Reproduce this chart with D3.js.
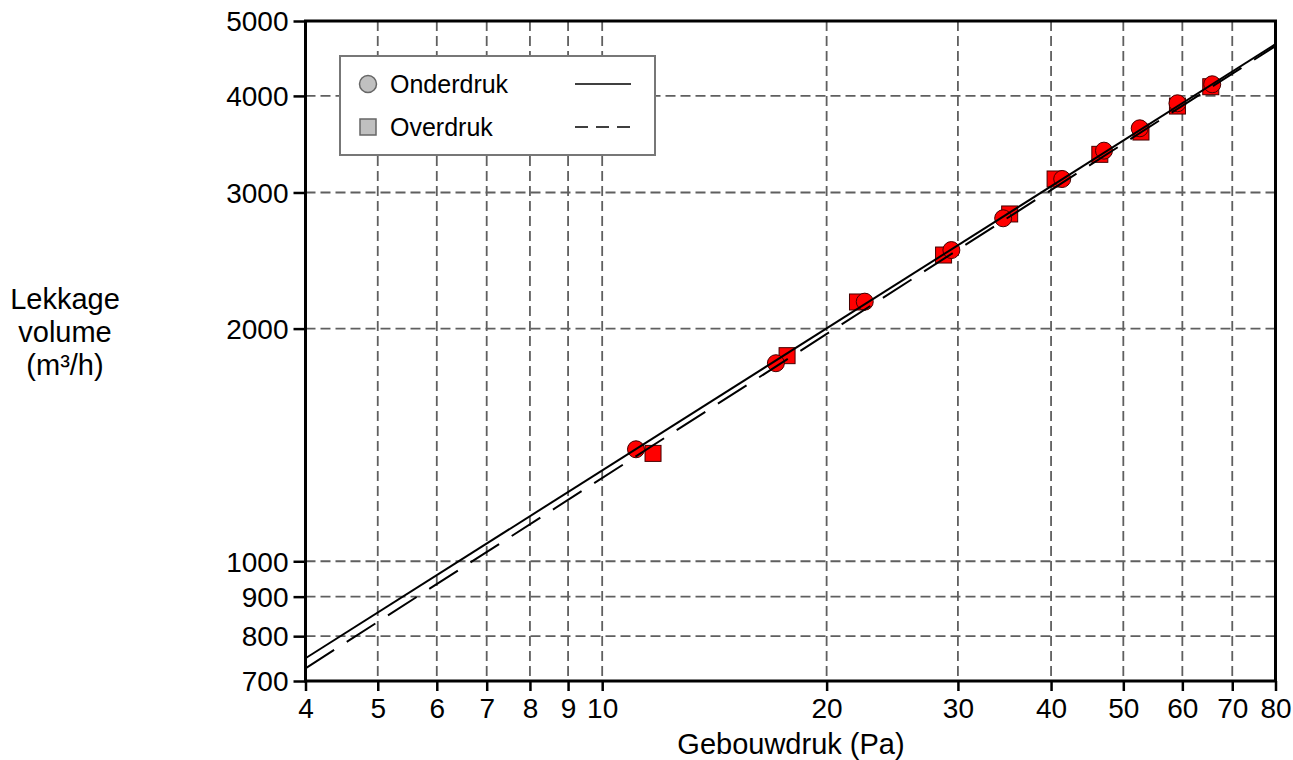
<!DOCTYPE html>
<html>
<head>
<meta charset="utf-8">
<script src="https://cdn.jsdelivr.net/npm/d3@7"></script>
<style>
  body { margin: 0; background: #fff; }
  text { font-family: "Liberation Sans", Arial, sans-serif; fill: #000; }
</style>
</head>
<body>
<svg id="chart" width="1293" height="760"></svg>
<script>
// measured points, pressure in Pa, volume in m3/h
const onderP = [11.1, 17.1, 22.5, 29.4, 34.5, 41.4, 47.1, 52.6, 59.1, 65.8];
const onderQ = [1396, 1804, 2167, 2527, 2778, 3123, 3398, 3632, 3913, 4141];
const overP = [11.7, 17.7, 22.0, 28.7, 35.2, 40.5, 46.5, 52.8, 59.1, 65.5];
const overQ = [1379, 1845, 2165, 2490, 2814, 3123, 3361, 3592, 3881, 4111];

// fitted lines Q = C * P^n
const fitNames = ['Onderdruk', 'Overdruk'];
const fitC = [321.3, 308.3];
const fitN = [0.6106, 0.6188];

const xTicks = [4, 5, 6, 7, 8, 9, 10, 20, 30, 40, 50, 60, 70, 80];
const yTicks = [700, 800, 900, 1000, 2000, 3000, 4000, 5000];

const svg = d3.select('#chart');
const plot = { left: 305.5, right: 1275.5, top: 21, bottom: 681 };

const x = d3.scaleLog()
  .domain([4, 80])
  .range([plot.left, plot.right]);

const y = d3.scaleLog()
  .domain([700, 5000])
  .range([plot.bottom, plot.top]);

svg.append('defs')
  .append('clipPath')
    .attr('id', 'plotClip')
  .append('rect')
    .attr('x', plot.left)
    .attr('y', plot.top)
    .attr('width', plot.right - plot.left)
    .attr('height', plot.bottom - plot.top);

// grid
const grid = svg.append('g').attr('class', 'grid');

grid.selectAll('.vgrid')
  .data(xTicks.slice(1, -1))
  .enter()
  .append('line')
    .attr('x1', d => x(d))
    .attr('x2', d => x(d))
    .attr('y1', plot.top)
    .attr('y2', plot.bottom)
    .attr('stroke', '#5f5f5f')
    .attr('stroke-width', 1.8)
    .attr('stroke-dasharray', '10,5');

grid.selectAll('.hgrid')
  .data(yTicks.slice(1, -1))
  .enter()
  .append('line')
    .attr('x1', plot.left)
    .attr('x2', plot.right)
    .attr('y1', d => y(d))
    .attr('y2', d => y(d))
    .attr('stroke', '#5f5f5f')
    .attr('stroke-width', 1.8)
    .attr('stroke-dasharray', '10,5');

// axes
const xAxis = svg.append('g')
  .attr('transform', `translate(0, ${plot.bottom})`)
  .call(d3.axisBottom(x).tickValues(xTicks).tickFormat(d3.format('d')).tickSize(10).tickPadding(7));

const yAxis = svg.append('g')
  .attr('transform', `translate(${plot.left}, 0)`)
  .call(d3.axisLeft(y).tickValues(yTicks).tickFormat(d3.format('d')).tickSize(12).tickPadding(5));

[xAxis, yAxis].forEach(ax => {
  ax.select('.domain').remove();
  ax.selectAll('line')
    .attr('stroke', '#000')
    .attr('stroke-width', 2.5);
  ax.selectAll('text')
    .attr('font-family', '"Liberation Sans", Arial, sans-serif')
    .attr('font-size', 28)
    .attr('fill', '#000');
});
yAxis.selectAll('text').attr('dy', '0.35em');

// markers
const pts = svg.append('g').attr('clip-path', 'url(#plotClip)');

pts.selectAll('.sq')
  .data(d3.zip(overP, overQ))
  .enter()
  .append('rect')
    .attr('x', d => x(d[0]) - 8)
    .attr('y', d => y(d[1]) - 8)
    .attr('width', 16)
    .attr('height', 16)
    .attr('fill', '#ff0000')
    .attr('stroke', '#400')
    .attr('stroke-width', 1);

pts.selectAll('.dot')
  .data(d3.zip(onderP, onderQ))
  .enter()
  .append('circle')
    .attr('cx', d => x(d[0]))
    .attr('cy', d => y(d[1]))
    .attr('r', 8.5)
    .attr('fill', '#ff0000')
    .attr('stroke', '#400')
    .attr('stroke-width', 1);

// fit lines (drawn over the markers, like the original)
const line = d3.line()
  .x(d => x(d[0]))
  .y(d => y(d[1]));

fitNames.forEach((name, i) => {
  const ends = [4, 80].map(p => [p, fitC[i] * Math.pow(p, fitN[i])]);
  pts.append('path')
    .datum(ends)
    .attr('d', line)
    .attr('fill', 'none')
    .attr('stroke', '#000')
    .attr('stroke-width', 2)
    .attr('stroke-dasharray', i === 1 ? '34,15' : null);
});

// frame
svg.append('rect')
  .attr('x', plot.left)
  .attr('y', plot.top)
  .attr('width', plot.right - plot.left)
  .attr('height', plot.bottom - plot.top)
  .attr('fill', 'none')
  .attr('stroke', '#000')
  .attr('stroke-width', 3);

// legend
const legend = svg.append('g')
  .attr('transform', 'translate(340, 56)');

legend.append('rect')
  .attr('width', 315)
  .attr('height', 99)
  .attr('fill', '#fff')
  .attr('stroke', '#777')
  .attr('stroke-width', 2);

legend.append('circle')
  .attr('cx', 28)
  .attr('cy', 28)
  .attr('r', 8.5)
  .attr('fill', '#c0c0c0')
  .attr('stroke', '#666')
  .attr('stroke-width', 1.5);

legend.append('rect')
  .attr('x', 20)
  .attr('y', 63)
  .attr('width', 16)
  .attr('height', 16)
  .attr('fill', '#c0c0c0')
  .attr('stroke', '#666')
  .attr('stroke-width', 1.5);

legend.selectAll('.ltext')
  .data(fitNames)
  .enter()
  .append('text')
    .attr('x', 50)
    .attr('y', (d, i) => 37 + i * 43)
    .attr('font-size', 25)
    .text(d => d);

legend.selectAll('.lline')
  .data(fitNames)
  .enter()
  .append('line')
    .attr('x1', 235)
    .attr('x2', 291)
    .attr('y1', (d, i) => 28 + i * 43)
    .attr('y2', (d, i) => 28 + i * 43)
    .attr('stroke', '#000')
    .attr('stroke-width', 1.5)
    .attr('stroke-dasharray', (d, i) => i === 1 ? '13,8' : null);

// axis titles
svg.append('text')
  .attr('x', 791)
  .attr('y', 754)
  .attr('text-anchor', 'middle')
  .attr('font-size', 29)
  .text('Gebouwdruk (Pa)');

svg.append('text')
  .attr('text-anchor', 'middle')
  .attr('font-size', 29)
  .selectAll('tspan')
  .data(['Lekkage', 'volume', '(m³/h)'])
  .enter()
  .append('tspan')
    .attr('x', 65)
    .attr('y', (d, i) => 309 + i * 33)
    .text(d => d);
</script>
</body>
</html>
